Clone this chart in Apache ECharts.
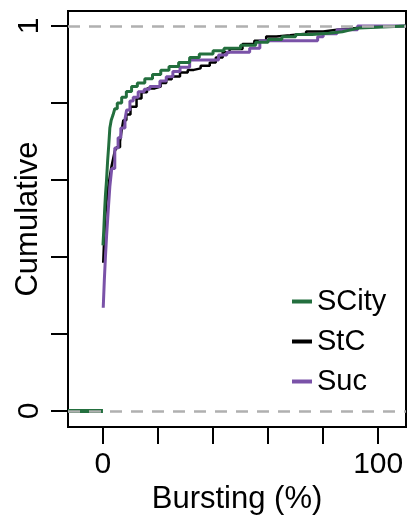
<!DOCTYPE html>
<html><head><meta charset="utf-8">
<script src="https://cdn.jsdelivr.net/npm/echarts@6/dist/echarts.min.js"></script>
<style>html,body{margin:0;padding:0;background:#fff}#c{width:409px;height:523px}</style>
</head><body><div id="c"></div>
<script>
// axis ranges and ticks
const xMin = -12.7, xMax = 110.1, yMin = -0.0416, yMax = 1.039;
const xTicks = [0, 20, 40, 60, 80, 100];
const xTickLabels = [0, 100];
const yTicks = [0, 0.2, 0.4, 0.6, 0.8, 1];
const yTickLabels = [0, 1];
const xTitle = 'Bursting (%)';
const yTitle = 'Cumulative';
const legendNames = ['SCity', 'StC', 'Suc'];

// ECDF steps (x = Bursting %, y = cumulative fraction)
const scityX = [0, 0.3, 0.6, 0.9, 1.3, 1.7, 2.1, 2.5, 3.0, 3.7, 4.3, 5.2, 6.8, 8.5, 10.4, 12.5, 15.2, 18, 21, 24, 27.5, 31.5, 35, 40, 44, 50, 55.5, 60, 65, 70, 76, 82, 87, 90, 93];
const scityY = [0.43, 0.47, 0.52, 0.56, 0.60, 0.65, 0.69, 0.735, 0.755, 0.77, 0.785, 0.80, 0.815, 0.83, 0.843, 0.852, 0.863, 0.874, 0.885, 0.895, 0.905, 0.918, 0.927, 0.936, 0.942, 0.95, 0.958, 0.965, 0.972, 0.978, 0.981, 0.985, 0.99, 0.995, 1.0];

const stcX = [0.1, 0.4, 0.7, 1.2, 1.9, 2.5, 3.1, 3.7, 4.3, 5.0, 6.2, 6.8, 7.4, 8.5, 10, 12.2, 14, 16, 18.8, 21, 23, 25, 28, 30.8, 33, 35.5, 38.8, 41, 43.5, 46, 50.7, 55, 59.3, 63, 68, 73.8, 80, 85, 89.5, 95];
const stcY = [0.385, 0.44, 0.49, 0.54, 0.58, 0.61, 0.635, 0.655, 0.675, 0.685, 0.70, 0.73, 0.755, 0.77, 0.79, 0.812, 0.828, 0.838, 0.843, 0.852, 0.862, 0.869, 0.879, 0.886, 0.89, 0.897, 0.905, 0.918, 0.932, 0.94, 0.953, 0.962, 0.973, 0.976, 0.98, 0.986, 0.99, 0.993, 0.997, 1.0];

const sucX = [0.1, 0.5, 0.9, 1.3, 1.9, 2.5, 3.2, 4.3, 5.5, 6.5, 8.0, 8.6, 9.8, 11, 12.8, 15, 17, 20.7, 23, 25.4, 28, 31.5, 42, 45, 53.3, 57, 78, 80, 85, 92.5];
const sucY = [0.268, 0.34, 0.40, 0.453, 0.52, 0.583, 0.63, 0.683, 0.71, 0.735, 0.758, 0.782, 0.805, 0.815, 0.829, 0.836, 0.843, 0.857, 0.868, 0.882, 0.893, 0.912, 0.925, 0.932, 0.942, 0.962, 0.972, 0.98, 0.99, 1.0];

const colors = { SCity: '#236f3e', StC: '#000000', Suc: '#7a52a8' };
const font = 'Liberation Sans, Arial, Helvetica, sans-serif';

function pts(xs, ys) {
  const d = xs.map((x, i) => [x, ys[i]]);
  d.push([xMax, ys[ys.length - 1]]);
  return d;
}
function stepSeries(name, xs, ys, width, z) {
  return {
    name, type: 'line', step: 'end', showSymbol: false, silent: true,
    data: pts(xs, ys), z,
    lineStyle: { color: colors[name], width },
    itemStyle: { color: colors[name] }
  };
}

const chart = echarts.init(document.getElementById('c'));
chart.setOption({
  animation: false,
  backgroundColor: '#fff',
  grid: { left: 68, right: 3, top: 11, bottom: 96, containLabel: false, outerBoundsMode: 'none', show: true, borderColor: '#000', borderWidth: 2, backgroundColor: 'transparent' },
  xAxis: {
    type: 'value', min: xMin, max: xMax,
    name: xTitle, nameLocation: 'middle', nameGap: 57, nameMoveOverlap: false,
    nameTextStyle: { fontSize: 31, color: '#000', fontFamily: font },
    axisLine: { show: false, onZero: false },
    splitLine: { show: false },
    axisTick: { show: true, length: 17, customValues: xTicks, lineStyle: { color: '#000', width: 2 } },
    axisLabel: { customValues: xTickLabels, fontSize: 30, color: '#000', fontFamily: font, margin: 23, formatter: v => String(v) }
  },
  yAxis: {
    type: 'value', min: yMin, max: yMax,
    name: yTitle, nameLocation: 'middle', nameGap: 24, nameRotate: 90, nameMoveOverlap: false,
    nameTextStyle: { fontSize: 31, color: '#000', fontFamily: font },
    axisLine: { show: false, onZero: false },
    splitLine: { show: false },
    axisTick: { show: true, length: 17, customValues: yTicks, lineStyle: { color: '#000', width: 2 } },
    axisLabel: { customValues: yTickLabels, rotate: 90, fontSize: 30, color: '#000', fontFamily: font, margin: 23, formatter: v => String(v) }
  },
  legend: {
    orient: 'vertical', left: 287, top: 282, itemGap: 11,
    data: legendNames, icon: 'rect', itemWidth: 20, itemHeight: 4,
    textStyle: { fontSize: 29, color: '#000', fontFamily: font, padding: [0, 0, 0, 0] }
  },
  series: [
    stepSeries('StC', stcX, stcY, 2.5, 2),
    stepSeries('Suc', sucX, sucY, 3, 3),
    stepSeries('SCity', scityX, scityY, 3, 4),
    {
      name: 'zeroSeg', type: 'line', showSymbol: false, silent: true, z: 5,
      data: [[xMin, 0], [0, 0]],
      lineStyle: { color: colors.SCity, width: 4 },
      markLine: {
        silent: true, symbol: 'none', label: { show: false }, z: 10,
        lineStyle: { color: '#b0b0b0', type: [12, 9], width: 2.5 },
        data: [{ yAxis: 0 }, { yAxis: 1 }]
      }
    }
  ]
});
</script>
</body></html>
